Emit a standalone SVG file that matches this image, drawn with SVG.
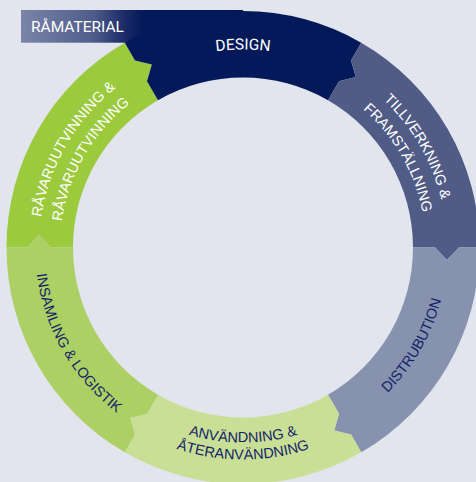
<svg xmlns="http://www.w3.org/2000/svg" xmlns:xlink="http://www.w3.org/1999/xlink" width="476" height="482" viewBox="0 0 476 482">
<style>
.lbl{font-family:"Liberation Sans",Arial,sans-serif;font-size:14.5px}
.w{fill:#ffffff}
.d{fill:#14246a}
.din{font-family:Roboto,"Liberation Sans",sans-serif;fill:#ffffff}
</style>
<defs>
<linearGradient id="gRaw" gradientUnits="userSpaceOnUse" x1="21" y1="0" x2="142" y2="0">
<stop offset="0" stop-color="#7a85a9"/>
<stop offset="0.6" stop-color="#4f5c8a"/>
<stop offset="0.85" stop-color="#1c2c68"/>
<stop offset="1" stop-color="#03195a"/>
</linearGradient>
<path id="pRav1" d="M45.99,300.29 A204,204 0 0 1 190.20,50.45"/>
<path id="pRav2" d="M66.24,294.86 A183,183 0 0 1 195.64,70.74"/>
<path id="pDes" d="M102.99,107.49 A198,198 0 0 1 383.01,107.49"/>
<path id="pTil1" d="M295.80,50.45 A204,204 0 0 1 440.01,300.29"/>
<path id="pTil2" d="M290.36,70.74 A183,183 0 0 1 419.76,294.86"/>
<path id="pDis" d="M296.06,445.51 A205,205 0 0 0 441.01,194.44"/>
<path id="pAnv1" d="M105.12,385.38 A195,195 0 0 0 380.88,385.38"/>
<path id="pAnv2" d="M93.09,397.41 A212,212 0 0 0 392.91,397.41"/>
<path id="pIns" d="M42.09,193.67 A208,208 0 0 0 189.17,448.41"/>
</defs>
<rect width="476" height="482" fill="#e2e5ee"/>

<g id="ramaterial">
<rect x="21" y="10" width="222" height="32.7" fill="url(#gRaw)"/>
<path fill="#03195a" d="M142,10 L243,10 L243,42.7 L142,42.7 Z"/>
<text class="din" x="31" y="32" font-size="15.5">RÅMATERIAL</text>
</g>

<g id="ravaruutvinning">
<path fill="#9bca3d" d="M6.5,247.5 A236.5,236.5 0 0 1 124.75,42.68 L135,60.44 L151.83,64.58 L147,81.22 L158,100.28 A170,170 0 0 0 73,247.5 L51,247.5 L39,235 L27,247.5 Z"/>
<text class="lbl w"><textPath xlink:href="#pRav1" href="#pRav1" startOffset="50%" text-anchor="middle">RÅVARUUTVINNING &amp;</textPath></text>
<text class="lbl w"><textPath xlink:href="#pRav2" href="#pRav2" startOffset="50%" text-anchor="middle">RÅVARUUTVINNING</textPath></text>
</g>

<g id="design">
<path fill="#03195a" d="M124.75,42.68 A236.5,236.5 0 0 1 361.25,42.68 L351,60.44 L355.83,77.08 L339,81.22 L328,100.28 A170,170 0 0 0 158,100.28 L147,81.22 L151.83,64.58 L135,60.44 Z"/>
<text class="din" font-size="15.5"><textPath xlink:href="#pDes" href="#pDes" startOffset="50%" text-anchor="middle">DESIGN</textPath></text>
</g>

<g id="tillverkning">
<path fill="#505c86" d="M361.25,42.68 A236.5,236.5 0 0 1 479.5,247.5 L459,247.5 L447,260 L435,247.5 L413,247.5 A170,170 0 0 0 328,100.28 L339,81.22 L355.83,77.08 L351,60.44 Z"/>
<text class="lbl w"><textPath xlink:href="#pTil1" href="#pTil1" startOffset="50%" text-anchor="middle">TILLVERKNING &amp;</textPath></text>
<text class="lbl w"><textPath xlink:href="#pTil2" href="#pTil2" startOffset="50%" text-anchor="middle">FRAMSTÄLLNING</textPath></text>
</g>

<g id="distribution">
<path fill="#8793ae" d="M479.5,247.5 A236.5,236.5 0 0 1 361.25,452.32 L351,434.56 L334.17,430.42 L339,413.78 L328,394.72 A170,170 0 0 0 413,247.5 L435,247.5 L447,260 L459,247.5 Z"/>
<text class="lbl d"><textPath xlink:href="#pDis" href="#pDis" startOffset="50%" text-anchor="middle">DISTRUBUTION</textPath></text>
</g>

<g id="anvandning">
<path fill="#c8df95" d="M361.25,452.32 A236.5,236.5 0 0 1 124.75,452.32 L135,434.56 L130.17,417.92 L147,413.78 L158,394.72 A170,170 0 0 0 328,394.72 L339,413.78 L334.17,430.42 L351,434.56 Z"/>
<text class="lbl d"><textPath xlink:href="#pAnv1" href="#pAnv1" startOffset="50%" text-anchor="middle">ANVÄNDNING &amp;</textPath></text>
<text class="lbl d"><textPath xlink:href="#pAnv2" href="#pAnv2" startOffset="50%" text-anchor="middle">ÅTERANVÄNDNING</textPath></text>
</g>

<g id="insamling">
<path fill="#acd063" d="M124.75,452.32 A236.5,236.5 0 0 1 6.5,247.5 L27,247.5 L39,235 L51,247.5 L73,247.5 A170,170 0 0 0 158,394.72 L147,413.78 L130.17,417.92 L135,434.56 Z"/>
<text class="lbl d"><textPath xlink:href="#pIns" href="#pIns" startOffset="50%" text-anchor="middle">INSAMLING &amp; LOGISTIK</textPath></text>
</g>
</svg>
